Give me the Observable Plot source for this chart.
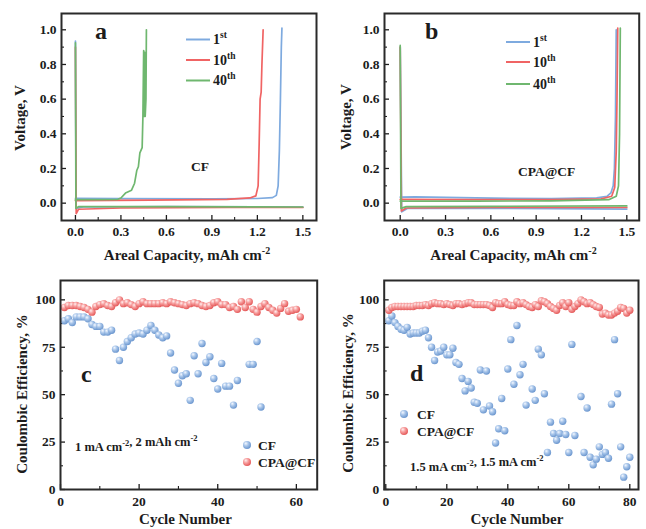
<!DOCTYPE html>
<html><head><meta charset="utf-8">
<script src="https://cdn.jsdelivr.net/npm/d3@7"></script>
<script src="https://cdn.jsdelivr.net/npm/@observablehq/plot@0.6"></script>
<style>
body{margin:0;background:#fff;}
#root{position:relative;width:646px;height:529px;overflow:hidden;background:#fff;}
#root svg{position:absolute;}
</style></head><body><div id="root"></div>
<script>
// ---------- DATA ----------
// Panel a (CF): voltage profiles [capacity mAh cm-2, voltage V]
const a1stPlate = [[0,0.935],[0.004,-0.03],[0.05,-0.022],[0.6,-0.02],[1.5,-0.022]];
const a1stStrip = [[0,0.028],[0.3,0.026],[0.9,0.025],[1.2,0.027],[1.3,0.032],[1.325,0.045],[1.337,0.1],[1.345,0.3],[1.352,0.6],[1.358,0.9],[1.362,1.01]];
const a10thPlate = [[0,0.9],[0.005,-0.06],[0.02,-0.035],[0.3,-0.028],[1.0,-0.025],[1.5,-0.025]];
const a10thStrip = [[0,0.015],[0.5,0.017],[1.0,0.022],[1.15,0.03],[1.19,0.042],[1.205,0.1],[1.212,0.35],[1.218,0.6],[1.225,0.64],[1.23,0.8],[1.238,1.0]];
const a40thPlate = [[0,0.925],[0.003,-0.03],[0.02,-0.02],[0.6,-0.02],[1.5,-0.022]];
const a40thStrip = [[0,0.02],[0.15,0.02],[0.28,0.022],[0.3,0.03],[0.33,0.058],[0.37,0.075],[0.39,0.115],[0.405,0.19],[0.415,0.21],[0.425,0.29],[0.44,0.32],[0.445,0.5],[0.45,0.88],[0.453,0.5],[0.457,0.87],[0.46,0.5],[0.465,0.6],[0.468,1.0]];
// Panel b (CPA@CF)
const b1stPlate = [[0,0.9],[0.01,-0.05],[0.05,-0.03],[0.5,-0.03],[1.0,-0.032],[1.5,-0.034]];
const b1stStrip = [[0,0.035],[0.1,0.036],[0.5,0.03],[1.0,0.026],[1.3,0.03],[1.37,0.04],[1.395,0.06],[1.41,0.1],[1.418,0.2],[1.425,0.5],[1.43,1.0]];
const b10thPlate = [[0,0.9],[0.008,-0.045],[0.04,-0.028],[0.6,-0.025],[1.5,-0.025]];
const b10thStrip = [[0,0.022],[0.5,0.02],[1.0,0.02],[1.33,0.025],[1.4,0.04],[1.42,0.09],[1.43,0.3],[1.435,0.6],[1.44,1.01]];
const b40thPlate = [[0,0.91],[0.005,-0.03],[0.04,-0.02],[0.6,-0.018],[1.5,-0.016]];
const b40thStrip = [[0,0.012],[0.5,0.012],[1.0,0.013],[1.38,0.02],[1.43,0.04],[1.445,0.1],[1.452,0.4],[1.457,1.01]];

// Panel c: 1 mA cm-2, 2 mAh cm-2
const cCycleCF = [1,2,3,4,5,6,7,8,9,10,11,12,13,14,15,16,17,18,19,20,21,22,23,24,25,26,27,28,29,30,31,32,33,34,35,36,37,38,39,40,41,42,43,44,45,48,49,50,51];
const cCF = [89,90,88,91,91,91,90,87,86,86,83,83,84,74,68,75,78,80,82,82.5,82,84,86.5,84,81.5,80,81,72,63,56,60,61,47,70.5,61,77,67,70,58.5,53,66.5,54.5,54.5,44.5,57.5,66,66,78,43.5];
const cCycleCPA = [1,2,3,4,5,6,7,8,9,10,11,12,13,14,15,16,17,18,19,20,21,22,23,24,25,26,27,28,29,30,31,32,33,34,35,36,37,38,39,40,41,42,43,44,45,46,47,48,49,50,51,52,53,54,55,56,57,58,59,60,61];
const cCPA = [96,97,97,97,96.5,96,95,93.5,96.5,97.5,98,97,96.5,98.5,100,98,98.5,97.5,96.5,98,99,98,98,98,98,98.5,98,99,98.5,98,97.5,97,98,98.5,98,97,96.5,97,98.5,99,97.5,97.5,96,96.5,95,99,96,99,95,93.5,96.5,98,96,94.5,93,95.5,98,94,94.5,95,91];

// Panel d: 1.5 mA cm-2, 1.5 mAh cm-2
const dCycleCF = [1,2,3,4,5,6,7,8,9,10,11,12,13,14,15,16,17,18,19,20,21,22,23,24,25,26,27,28,29,30,31,32,33,34,35,36,37,38,39,40,41,42,43,44,45,46,48,49,50,51,52,53,54,55,56,57,58,59,60,61,62,64,65,66,67,68,69,70,71,72,73,74,75,76,77,78,79,80];
const dCF = [89,91.5,88,86,84.5,84,85.5,82,82.5,82.5,82.5,83.5,84,80,75,68,72.5,73,75,71,71,74.5,67,66,58.5,52,57,53.5,46,45.5,63,42,62.5,44,41,24.5,32,48,31,63.5,79,55.5,86.5,60.5,66,44.5,53,47,74,71,50.5,19.5,35.5,29.5,26,29.5,36,29,19.5,76.5,28.5,49,19.5,43,17,13,16,22.5,18.5,19.5,16.5,45,79,50.5,22.5,6.5,12,17];
const dCycleCPA = d3.range(1, 81);
const dCPA = [94.5,96,96.5,96.5,96.5,96.5,96.5,96.5,96.5,97,97,97,97.5,97,98,98.5,98,98,97.5,98,97.5,97,98,98,97.5,98,98.5,98.5,97.5,97.5,97.5,97.5,97.5,97,96,98.5,98,98,99,97.5,97,97,99,98,98.5,97.5,96.5,96,97.5,96.5,99.5,99,98,96.5,95.5,94.5,97,98.5,96.5,98.5,95,96.5,98,100,99,98,98.5,97.5,96.5,96,92.5,93,92,92,93,94,96,95.5,93,94.5];

// ticks
const capTicks = [0,0.3,0.6,0.9,1.2,1.5], capMinor = [0.15,0.45,0.75,1.05,1.35];
const voltTicks = [0,0.2,0.4,0.6,0.8,1.0], voltMinor = [0.1,0.3,0.5,0.7,0.9];
const ceTicks = [0,25,50,75,100], ceMinor = [12.5,37.5,62.5,87.5];
const cycTicksC = [0,20,40,60], cycMinorC = [10,30,50];
const cycTicksD = [0,20,40,60,80], cycMinorD = [10,30,50,70];

// ---------- STYLE ----------
const FONT = "'Liberation Serif','Times New Roman',serif";
const INK = "#1c1c1c";
const cBlue = "#7eaadf", cRed = "#f06464", cGreen = "#6fb76f";
const root = document.getElementById("root");

// overlay svg with gradients and text
const ov = d3.create("svg").attr("width",646).attr("height",529)
  .style("left","0px").style("top","0px").style("pointer-events","none")
  .attr("font-family", FONT).attr("font-weight","bold").attr("fill", INK);
const defs = ov.append("defs");
function grad(id, hi, mid, edge){
  const g = defs.append("radialGradient").attr("id",id).attr("cx","0.38").attr("cy","0.35").attr("r","0.65").attr("fx","0.35").attr("fy","0.3");
  g.append("stop").attr("offset","0").attr("stop-color",hi);
  g.append("stop").attr("offset","0.45").attr("stop-color",mid);
  g.append("stop").attr("offset","1").attr("stop-color",edge);
}
grad("gBlue","#f4f8ff","#a9c6ea","#6c97cf");
grad("gRed","#fff0f0","#f7a0a0","#e55a5a");

function panel(o){
  const innerW = o.w - o.ml - o.mr, innerH = o.h - o.mt - o.mb;
  const svg = Plot.plot({
    width:o.w, height:o.h, marginLeft:o.ml, marginRight:o.mr, marginTop:o.mt, marginBottom:o.mb,
    x:{domain:o.xd}, y:{domain:o.yd},
    style:{fontFamily:FONT, fontSize:"13.5px", fontWeight:"bold", color:INK, background:"transparent", overflow:"visible"},
    marks:[
      Plot.ruleX(o.xMajor,{x:d=>d, insetTop:innerH-5, stroke:INK, strokeWidth:1.3}),
      Plot.ruleX(o.xMinor,{x:d=>d, insetTop:innerH-3, stroke:INK, strokeWidth:1.1}),
      Plot.ruleY(o.yMajor,{y:d=>d, insetRight:innerW-5, stroke:INK, strokeWidth:1.3}),
      Plot.ruleY(o.yMinor,{y:d=>d, insetRight:innerW-3, stroke:INK, strokeWidth:1.1}),
      Plot.axisX(o.xMajor,{tickSize:0, tickPadding:o.xpad, tickFormat:o.xFmt, label:null}),
      Plot.axisY(o.yMajor,{tickSize:0, tickPadding:5, tickFormat:o.yFmt, label:null}),
      ...o.marks,
      Plot.frame({stroke:"#2a2a2a", strokeWidth:2})
    ]
  });
  svg.style.left = o.left+"px"; svg.style.top = o.top+"px";
  root.appendChild(svg);
}
const ln = (arr,col)=>Plot.line(arr,{x:d=>d[0], y:d=>d[1], stroke:col, strokeWidth:1.7});
const f1 = d3.format(".1f");

panel({left:0, top:0, w:323, h:264, ml:61, mr:7, mt:13, mb:44, xd:[-0.092,1.59], yd:[-0.1,1.094],
  xMajor:capTicks, xMinor:capMinor, yMajor:voltTicks, yMinor:voltMinor, xFmt:f1, yFmt:f1, xpad:6,
  marks:[ln(a1stPlate,cBlue), ln(a1stStrip,cBlue), ln(a10thPlate,cRed), ln(a10thStrip,cRed), ln(a40thPlate,cGreen), ln(a40thStrip,cGreen)]});
panel({left:323, top:0, w:323, h:264, ml:61, mr:7.3, mt:13, mb:44, xd:[-0.104,1.582], yd:[-0.1,1.094],
  xMajor:capTicks, xMinor:capMinor, yMajor:voltTicks, yMinor:voltMinor, xFmt:f1, yFmt:f1, xpad:6,
  marks:[ln(b1stPlate,cBlue), ln(b1stStrip,cBlue), ln(b10thPlate,cRed), ln(b10thStrip,cRed), ln(b40thPlate,cGreen), ln(b40thStrip,cGreen)]});

const dot = (xs,ys,g)=>Plot.dot(d3.range(xs.length),{x:i=>xs[i], y:i=>ys[i], r:3.7, fill:`url(#${g})`, stroke:"none"});
panel({left:0, top:264, w:323, h:265, ml:60, mr:6.3, mt:16, mb:40, xd:[0,65.3], yd:[0,110.2],
  xMajor:cycTicksC, xMinor:cycMinorC, yMajor:ceTicks, yMinor:ceMinor, xFmt:d3.format("d"), yFmt:d3.format("d"), xpad:7,
  marks:[dot(cCycleCF,cCF,"gBlue"), dot(cCycleCPA,cCPA,"gRed")]});
panel({left:323, top:264, w:323, h:265, ml:60.7, mr:8, mt:16, mb:40, xd:[-0.52,82.85], yd:[0,110.2],
  xMajor:cycTicksD, xMinor:cycMinorD, yMajor:ceTicks, yMinor:ceMinor, xFmt:d3.format("d"), yFmt:d3.format("d"), xpad:7,
  marks:[dot(dCycleCF,dCF,"gBlue"), dot(dCycleCPA,dCPA,"gRed")]});

// ---------- TEXT OVERLAY ----------
function txt(x,y,s,size,anchor){ return ov.append("text").attr("x",x).attr("y",y).attr("font-size",size).attr("text-anchor",anchor||"start").text(s); }
function sup(t,s,size,base){ t.append("tspan").text(base); t.append("tspan").attr("dy",-size*0.42).attr("font-size",size*0.68).text(s); }
function vtxt(cx,cy,s,size){ ov.append("text").attr("transform",`translate(${cx},${cy}) rotate(-90)`).attr("font-size",size).attr("text-anchor","middle").attr("dy","0.35em").text(s); }

// panel letters
txt(95,39,"a",24); txt(425,39,"b",24); txt(81,382,"c",24); txt(410,381,"d",24);
txt(191,171,"CF",13.5); txt(518,176,"CPA@CF",13.5);

// legends a,b
const legLabels = [["1","st"],["10","th"],["40","th"]], legCols=[cBlue,cRed,cGreen];
[[186,213,[39.5,60,80.5]],[506,533,[42,62,84]]].forEach(([x0,tx,ys])=>{
  ys.forEach((y,i)=>{
    ov.append("line").attr("x1",x0).attr("x2",x0+24).attr("y1",y).attr("y2",y).attr("stroke",legCols[i]).attr("stroke-width",2);
    const t = ov.append("text").attr("x",tx).attr("y",y+4.8).attr("font-size",14);
    sup(t,legLabels[i][1],14,legLabels[i][0]);
  });
});

// axis titles
function capTitle(cx){ const t = ov.append("text").attr("x",cx).attr("y",260).attr("font-size",15).attr("text-anchor","middle"); t.append("tspan").text("Areal Capacity, mAh cm"); t.append("tspan").attr("dy",-6).attr("font-size",10).text("-2"); }
capTitle(187); capTitle(513.5);
vtxt(20,118,"Voltage, V",15); vtxt(346,117,"Voltage, V",15);
vtxt(22,394,"Coulombic Efficiency, %",15); vtxt(348,393,"Coulombic Efficiency, %",15);
txt(185.5,524,"Cycle Number",15,"middle"); txt(517,524,"Cycle Number",15,"middle");

// legends c,d
[[247,445,258,"CF","gBlue"],[247,462,258,"CPA@CF","gRed"],[404,414,417,"CF","gBlue"],[404,431,417,"CPA@CF","gRed"]].forEach(([cx,cy,tx,s,g])=>{
  ov.append("circle").attr("cx",cx).attr("cy",cy).attr("r",4).attr("fill",`url(#${g})`);
  txt(tx,cy+4.6,s,13.5);
});
// condition texts with superscripts
function cond(x,y,parts){ const t = ov.append("text").attr("x",x).attr("y",y).attr("font-size",12.5); parts.forEach(p=>{ if(p[1]) { t.append("tspan").attr("dy",-5).attr("font-size",8.5).text(p[0]); t.append("tspan").attr("dy",5).text(""); } else t.append("tspan").text(p[0]); }); }
cond(75,451,[["1 mA cm"],["-2",1],[", 2 mAh cm"],["-2",1]]);
cond(410,471,[["1.5 mA cm"],["-2",1],[", 1.5 mA cm"],["-2",1]]);

root.appendChild(ov.node());
</script></body></html>
